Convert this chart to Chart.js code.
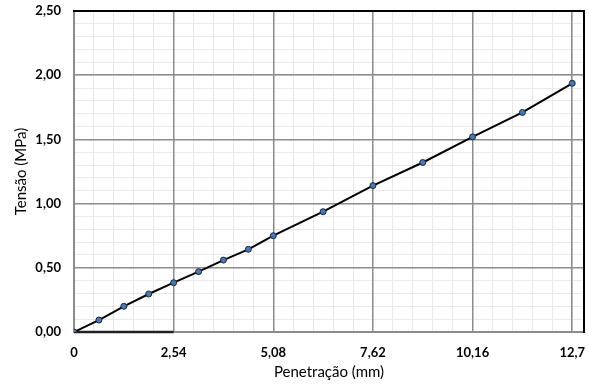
<!DOCTYPE html>
<html><head><meta charset="utf-8">
<script src="https://cdn.jsdelivr.net/npm/chart.js@4"></script>
<style>html,body{margin:0;padding:0;background:#fff}canvas{display:block}</style>
</head><body><canvas id="c" width="589" height="385"></canvas>
<script>
// Data
const penetracao = [0,0.635,1.27,1.905,2.54,3.175,3.81,4.445,5.08,6.35,7.62,8.89,10.16,11.43,12.7];
const tensao = [0,0.093,0.20,0.296,0.384,0.47,0.56,0.644,0.75,0.937,1.14,1.32,1.52,1.71,1.937];
const baseSegmentX = [0, 2.54];
const baseSegmentY = [0, 0];
// Ticks
const xTickValues = [0,2.54,5.08,7.62,10.16,12.7];
const xTickLabels = ["0","2,54","5,08","7,62","10,16","12,7"];
const yTickValues = [0,0.5,1,1.5,2,2.5];
const yTickLabels = ["0,00","0,50","1,00","1,50","2,00","2,50"];
const xMinorStep = 0.508;
const yMinorStep = 0.1;

const FONT = 'Lato, "Open Sans", sans-serif';
const MAJOR = '#8c8c8c';
const MINOR = '#e9e9e9';

function minorTicks(max, step){
  const out = [];
  for (let i = 0; i * step <= max + 1e-9; i++) out.push({value: +(i*step).toFixed(4)});
  return out;
}
const hiddenAxis = (pos, min, max, extra) => Object.assign({
  type:'linear', position:pos, min:min, max:max,
  ticks:{display:false}, grid:{display:false, drawTicks:false},
  border:{display:false}
}, extra);
function noPad(s){ s.paddingLeft = 0; s.paddingRight = 0; s.paddingTop = 0; s.paddingBottom = 0; }

new Chart(document.getElementById('c'), {
  type:'line',
  data:{
    datasets:[
      {
        data: penetracao.map((x,i)=>({x:x, y:tensao[i]})),
        borderColor:'#000', borderWidth:2, tension:0,
        pointRadius:3, pointBackgroundColor:'#4a78b5', pointBorderColor:'#1b2635', pointBorderWidth:1,
        xAxisID:'x', yAxisID:'y', order:0
      },
      {
        data: baseSegmentX.map((x,i)=>({x:x, y:baseSegmentY[i]})),
        borderColor:'#222', borderWidth:2.5, pointRadius:0, clip:false,
        xAxisID:'x', yAxisID:'y', order:1
      }
    ]
  },
  options:{
    responsive:false, animation:false,
    layout:{padding:0},
    plugins:{legend:{display:false}, tooltip:{enabled:false}},
    scales:{
      x:{
        type:'linear', position:'bottom', min:0, max:13,
        afterBuildTicks:s=>{ s.ticks = xTickValues.map(v=>({value:v})); },
        afterFit:s=>{ s.height = 53; noPad(s); },
        ticks:{autoSkip:false, maxRotation:0, padding:13, color:'#000',
          font:{family:FONT, size:13, weight:'bold'},
          callback:(v,i)=>xTickLabels[i]},
        grid:{color:MAJOR, lineWidth:1.5, drawTicks:false, z:-1},
        border:{color:MAJOR, width:2},
        title:{display:true, text:'Penetração (mm)', color:'#000',
          font:{family:FONT, size:15}, padding:{top:0, bottom:3.5}}
      },
      y:{
        type:'linear', position:'left', min:0, max:2.5,
        afterBuildTicks:s=>{ s.ticks = yTickValues.map(v=>({value:v})); },
        afterFit:s=>{ s.width = 74; noPad(s); },
        ticks:{autoSkip:false, padding:13, color:'#000',
          font:{family:FONT, size:13, weight:'bold'},
          callback:(v,i)=>yTickLabels[i]},
        grid:{color:MAJOR, lineWidth:1.5, drawTicks:false, z:-1},
        border:{color:MAJOR, width:2},
        title:{display:true, text:'Tensão (MPa)', color:'#000',
          font:{family:FONT, size:15}, padding:{top:12.5, bottom:0}}
      },
      xm:{
        type:'linear', position:'bottom', min:0, max:13,
        afterBuildTicks:s=>{ s.ticks = minorTicks(12.7, xMinorStep); },
        afterFit:s=>{ s.height = 0; noPad(s); },
        ticks:{display:false}, grid:{color:MINOR, lineWidth:1, drawTicks:false, z:-2},
        border:{display:false}
      },
      ym:{
        type:'linear', position:'left', min:0, max:2.5,
        afterBuildTicks:s=>{ s.ticks = minorTicks(2.5, yMinorStep); },
        afterFit:s=>{ s.width = 0; noPad(s); },
        ticks:{display:false}, grid:{color:MINOR, lineWidth:1, drawTicks:false, z:-2},
        border:{display:false}
      },
      xt: hiddenAxis('top', 0, 13, {border:{display:true, color:'#000', width:2}, afterFit:s=>{ s.height = 11; noPad(s); }}),
      yr: hiddenAxis('right', 0, 2.5, {border:{display:true, color:'#000', width:2}, afterFit:s=>{ s.width = 4; noPad(s); }})
    }
  }
});
</script>
</body></html>
